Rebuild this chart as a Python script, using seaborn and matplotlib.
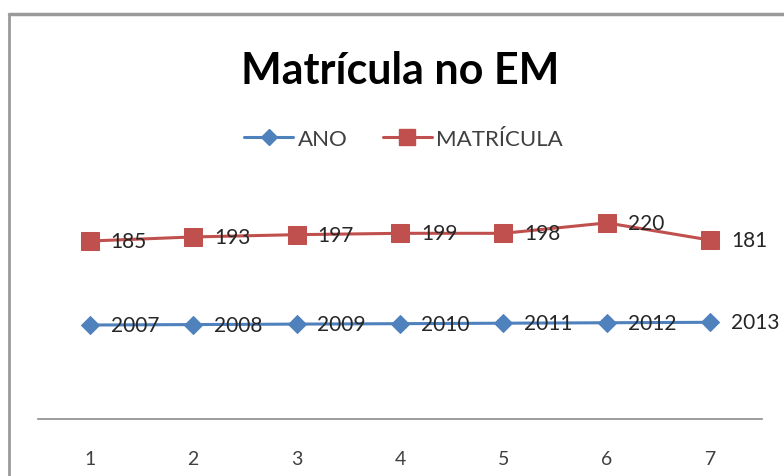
import numpy as np
import pandas as pd
import matplotlib.pyplot as plt
import seaborn as sns
from matplotlib.lines import Line2D

# data (Excel stacked line chart)
pontos = [1, 2, 3, 4, 5, 6, 7]
ano = [2007, 2008, 2009, 2010, 2011, 2012, 2013]
matricula = [185, 193, 197, 199, 198, 220, 181]

azul = "#4F81BD"
vermelho = "#C0504D"


def main():
    sns.set_style("white")
    plt.rcParams['font.family'] = ['Lato', 'DejaVu Sans']

    df = pd.DataFrame({"ponto": pontos, "ano": ano, "matricula": matricula})
    df["empilhado"] = df["ano"] + df["matricula"]

    fig = plt.figure(figsize=(7.84, 4.77), dpi=100)
    ax = fig.add_axes([38 / 784, 57 / 477, (762 - 38) / 784, 227 / 477])

    sns.lineplot(data=df, x="ponto", y="ano", ax=ax, color=azul, lw=2.2,
                 marker="D", markersize=9, markeredgecolor=azul)
    sns.lineplot(data=df, x="ponto", y="empilhado", ax=ax, color=vermelho, lw=2.2,
                 marker="s", markersize=13, markeredgecolor=vermelho)

    for x, y, v in zip(df["ponto"], df["ano"], df["ano"]):
        ax.annotate(str(v), (x, y), xytext=(15, 0), textcoords="offset points",
                    ha="left", va="center", fontsize=15, color="#262626")
    for x, y, v in zip(df["ponto"], df["empilhado"], df["matricula"]):
        ax.annotate(str(v), (x, y), xytext=(15, 0), textcoords="offset points",
                    ha="left", va="center", fontsize=15, color="#262626")

    ax.set_xlim(0.5, 7.5)
    ax.set_ylim(1800, 2300)
    ax.set_xticks(pontos)
    ax.set_xticklabels([str(p) for p in pontos], fontsize=14, color="#404040")
    ax.tick_params(axis="x", length=0, pad=22)
    ax.set_yticks([])
    ax.set_xlabel("")
    ax.set_ylabel("")
    for s in ["top", "right", "left"]:
        ax.spines[s].set_visible(False)
    ax.spines["bottom"].set_color("#8C8C8C")
    ax.spines["bottom"].set_linewidth(1.2)

    fig.text(0.511, 1 - 71 / 477, "Matrícula no EM", ha="center", va="center",
             fontsize=31, fontweight="bold", color="black")

    handles = [
        Line2D([], [], color=azul, lw=2.2, marker="D", markersize=8),
        Line2D([], [], color=vermelho, lw=2.2, marker="s", markersize=11),
    ]
    fig.legend(handles, ["ANO", "MATRÍCULA"], loc="center",
               bbox_to_anchor=(0.515, 1 - 140 / 477), ncol=2, frameon=False,
               fontsize=16, handlelength=2.2, handletextpad=0.2, columnspacing=1.6,
               labelcolor="#404040")

    # chart frame (only top and left edges visible in the screenshot)
    fig.add_artist(Line2D([9 / 784, 1], [1 - 15 / 477, 1 - 15 / 477],
                          transform=fig.transFigure, color="#9A9A9A", lw=2.5))
    fig.add_artist(Line2D([9 / 784, 9 / 784], [0, 1 - 15 / 477],
                          transform=fig.transFigure, color="#9A9A9A", lw=2.0))

    plt.savefig("out.png", dpi=100)


if __name__ == "__main__":
    main()
